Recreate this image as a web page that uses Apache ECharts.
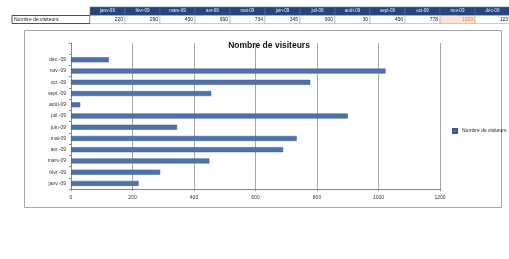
<!DOCTYPE html>
<html>
<head>
<meta charset="utf-8">
<script src="https://cdn.jsdelivr.net/npm/echarts@6/dist/echarts.min.js"></script>
<style>
  html, body { margin: 0; padding: 0; background: #fff; }
  #main { width: 509px; height: 259px; }
</style>
</head>
<body>
<div id="main"></div>
<script>
var monthLabels = ['janv.-09', 'févr.-09', 'mars-09', 'avr.-09', 'mai-09', 'juin-09',
                   'juil.-09', 'août-09', 'sept.-09', 'oct.-09', 'nov.-09', 'déc.-09'];
var headerLabels = ['janv-09', 'févr-09', 'mars-09', 'avr-09', 'mai-09', 'juin-09',
                    'juil-09', 'août-09', 'sept-09', 'oct-09', 'nov-09', 'déc-09'];
var visitors = [220, 290, 450, 690, 734, 345, 900, 30, 456, 778, 1023, 123];
var seriesName = 'Nombre de visiteurs';

// the chart range has one empty slot above déc.
var categories = monthLabels.concat(['']);
var barValues = visitors.concat(['-']);

var fontFam = '"Liberation Sans", Arial, sans-serif';

// little excel table on top
var tableEls = [];
var colX = 90, colW = 35;
tableEls.push({
  type: 'rect', shape: { x: 12, y: 15.5, width: 78, height: 8 },
  style: { fill: '#fff', stroke: '#222', lineWidth: 0.8 }
});
tableEls.push({
  type: 'text', x: 14, y: 19.5,
  style: { text: seriesName, fontSize: 5, fontFamily: fontFam, fill: '#222', verticalAlign: 'middle' }
});
for (var i = 0; i < headerLabels.length; i++) {
  var x = colX + i * colW;
  var hot = (i === 10);
  tableEls.push({
    type: 'rect', shape: { x: x, y: 7, width: colW, height: 8.5 },
    style: { fill: '#27457a', stroke: '#5b77a6', lineWidth: 0.5 }
  });
  tableEls.push({
    type: 'text', x: x + colW / 2, y: 11.2,
    style: { text: headerLabels[i], fontSize: 4.5, fontFamily: fontFam, fill: '#e8eef8',
             align: 'center', verticalAlign: 'middle' }
  });
  tableEls.push({
    type: 'rect', shape: { x: x, y: 15.5, width: colW, height: 8 },
    style: { fill: hot ? '#fbe3d6' : '#fff', stroke: '#9a9a9a', lineWidth: 0.5 }
  });
  tableEls.push({
    type: 'text', x: x + colW - 2, y: 19.5,
    style: { text: String(visitors[i]), fontSize: 5, fontFamily: fontFam,
             fill: hot ? '#e5793a' : '#222', align: 'right', verticalAlign: 'middle' }
  });
}

var chart = echarts.init(document.getElementById('main'));
chart.setOption({
  animation: false,
  backgroundColor: '#fff',
  title: {
    text: seriesName,
    left: 264, top: 36, textAlign: 'center',
    textStyle: { fontSize: 8.5, fontWeight: 'bold', color: '#111', fontFamily: fontFam }
  },
  legend: {
    left: 447, top: 123,
    itemWidth: 4, itemHeight: 4, itemGap: 2,
    textStyle: { fontSize: 5, color: '#222', fontFamily: fontFam },
    data: [{ name: seriesName, icon: 'rect' }]
  },
  grid: { left: 71, right: 69, top: 43, bottom: 70 },
  xAxis: {
    type: 'value', min: 0, max: 1200, interval: 200,
    axisLine: { show: true, lineStyle: { color: '#888', width: 1 } },
    axisTick: { show: true, length: 2, lineStyle: { color: '#888' } },
    axisLabel: { fontSize: 5, color: '#333', margin: 6, fontFamily: fontFam,
                 formatter: function (v) { return String(v); } },
    splitLine: { show: true, lineStyle: { color: '#a8a8a8', width: 1 } }
  },
  yAxis: {
    type: 'category', data: categories,
    axisLine: { show: true, lineStyle: { color: '#888', width: 1 } },
    axisTick: { show: true, length: 2, lineStyle: { color: '#888' } },
    axisLabel: { fontSize: 5, color: '#333', margin: 5, fontFamily: fontFam },
    splitLine: { show: false }
  },
  series: [{
    name: seriesName,
    type: 'bar',
    data: barValues,
    barWidth: 5,
    itemStyle: { color: '#4f72ad', borderColor: '#3b5b8e', borderWidth: 0.5 }
  }],
  graphic: [{
    type: 'rect', silent: true, z: -1,
    shape: { x: 24.5, y: 30.5, width: 477, height: 177 },
    style: { fill: 'none', stroke: '#a6a6a6', lineWidth: 1 }
  }].concat(tableEls)
});
</script>
</body>
</html>
